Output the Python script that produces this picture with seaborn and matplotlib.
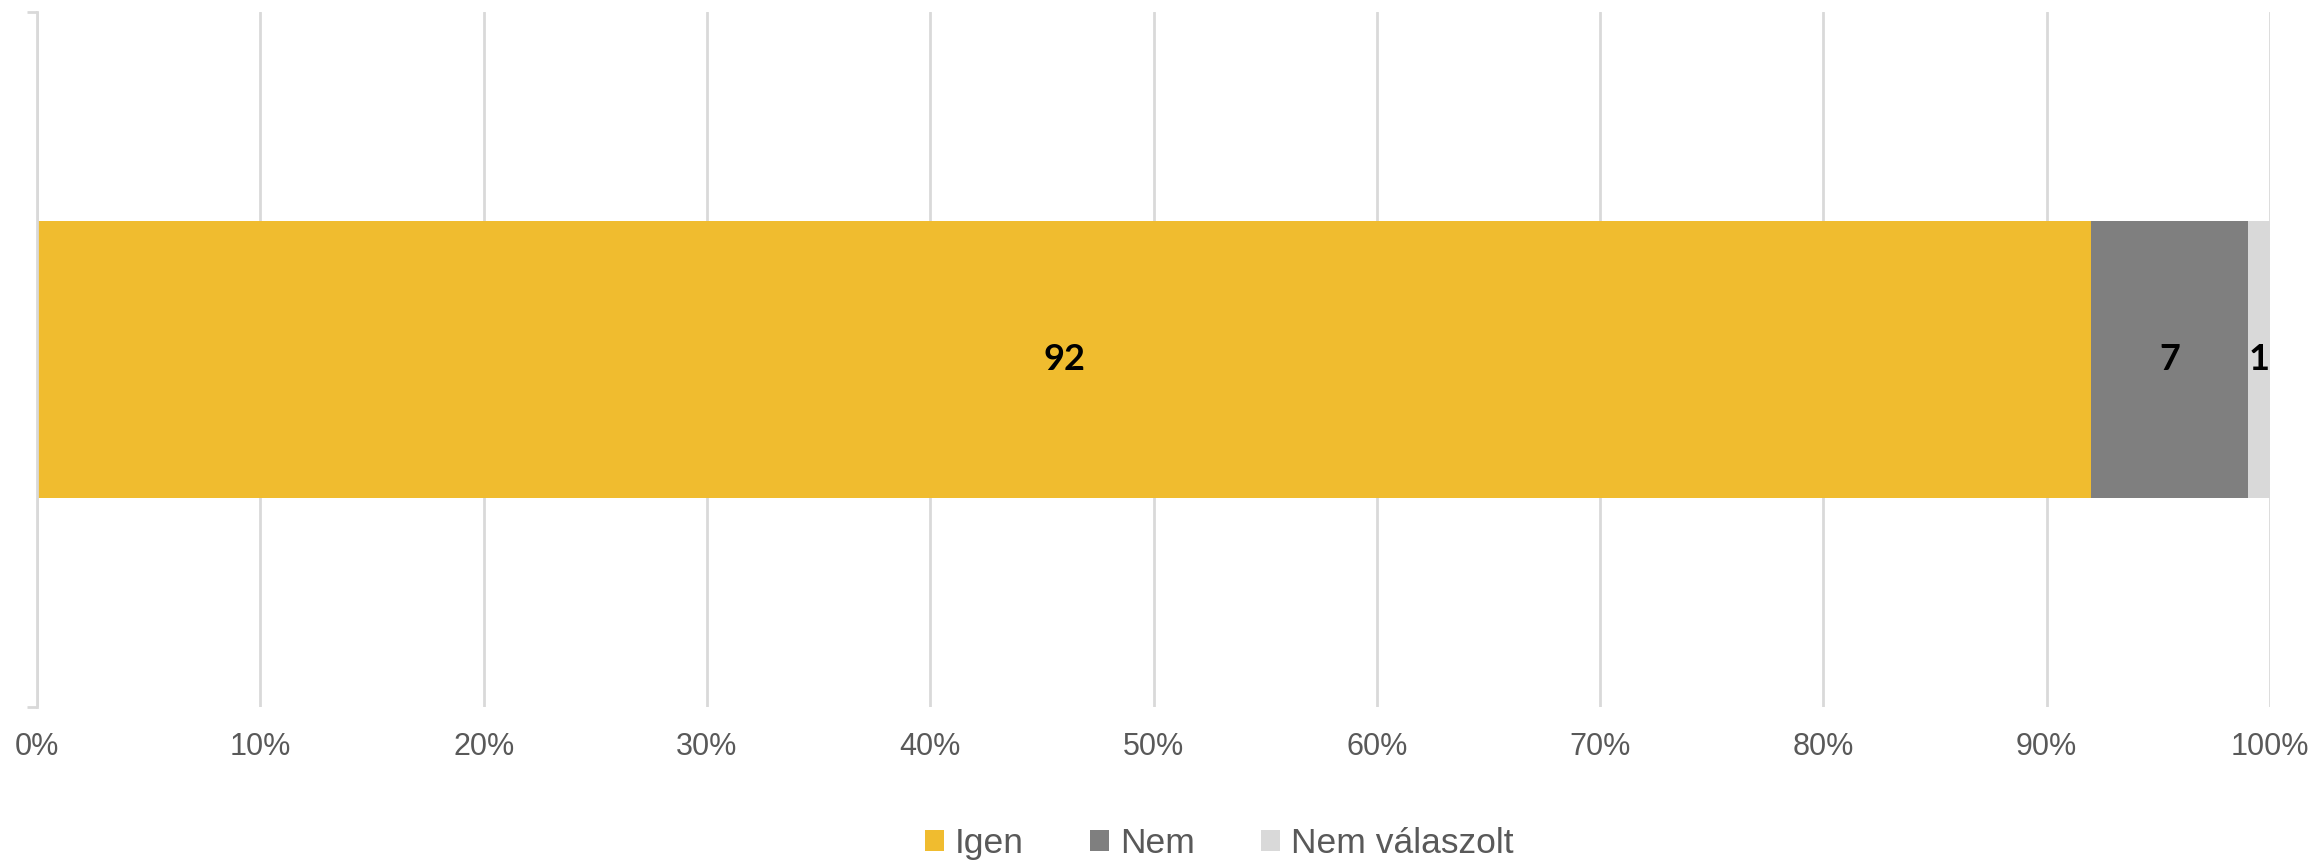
import matplotlib
matplotlib.use("Agg")
from matplotlib import pyplot as plt
from matplotlib.patches import Patch
import numpy as np
import pandas as pd
import seaborn as sns

# data
categories = ["Igen", "Nem", "Nem válaszolt"]
values = [92, 7, 1]
colors = ["#F0BC2F", "#7F7F7F", "#D9D9D9"]
row_label = [""]
tick_values = np.arange(0, 101, 10)
tick_labels = [f"{t}%" for t in tick_values]

sns.set_theme(style="white")
plt.rcParams["font.family"] = ["Liberation Sans", "DejaVu Sans"]

fig = plt.figure(figsize=(23.18, 8.65), dpi=100)
ax = fig.add_axes([0.016, 0.1827, 0.9633, 0.8034])

# stacked bar: draw cumulative totals back to front
cum = np.cumsum(values)
for i in reversed(range(len(values))):
    df = pd.DataFrame({"row": row_label, "value": [cum[i]]})
    sns.barplot(data=df, x="value", y="row", color=colors[i], width=0.4,
                saturation=1, linewidth=0, ax=ax, zorder=2)

# segment labels
for i, v in enumerate(values):
    ax.text(cum[i] - v / 2, 0, str(v), ha="center", va="center",
            fontsize=26, fontweight="bold", family=["Lato", "DejaVu Sans"],
            color="black", zorder=3)

ax.set_xlim(0, 100)
ax.set_ylim(0.5, -0.5)
ax.set_xticks(tick_values)
ax.set_xticklabels(tick_labels, fontsize=22, color="#595959")
ax.set_yticks([-0.5, 0.5])
ax.set_yticklabels([])
ax.set_xlabel("")
ax.set_ylabel("")

ax.grid(axis="x", color="#D9D9D9", linewidth=2, zorder=0)
ax.grid(axis="y", visible=False)
ax.set_axisbelow(True)

for s in ["top", "right", "bottom"]:
    ax.spines[s].set_visible(False)
ax.spines["left"].set_color("#D9D9D9")
ax.spines["left"].set_linewidth(2)
ax.spines["left"].set_zorder(4)

ax.tick_params(axis="x", length=0, pad=18)
ax.tick_params(axis="y", left=True, length=7, width=2, color="#D9D9D9")

handles = [Patch(facecolor=c, edgecolor="none", label=l) for c, l in zip(colors, categories)]
fig.legend(handles=handles, loc="center", bbox_to_anchor=(0.526, 0.025), ncol=3,
           frameon=False, fontsize=25.5, labelcolor="#595959",
           handlelength=0.54, handleheight=0.51, handletextpad=0.31,
           columnspacing=1.86, borderpad=0, borderaxespad=0)

fig.savefig("out.png", dpi=100)
